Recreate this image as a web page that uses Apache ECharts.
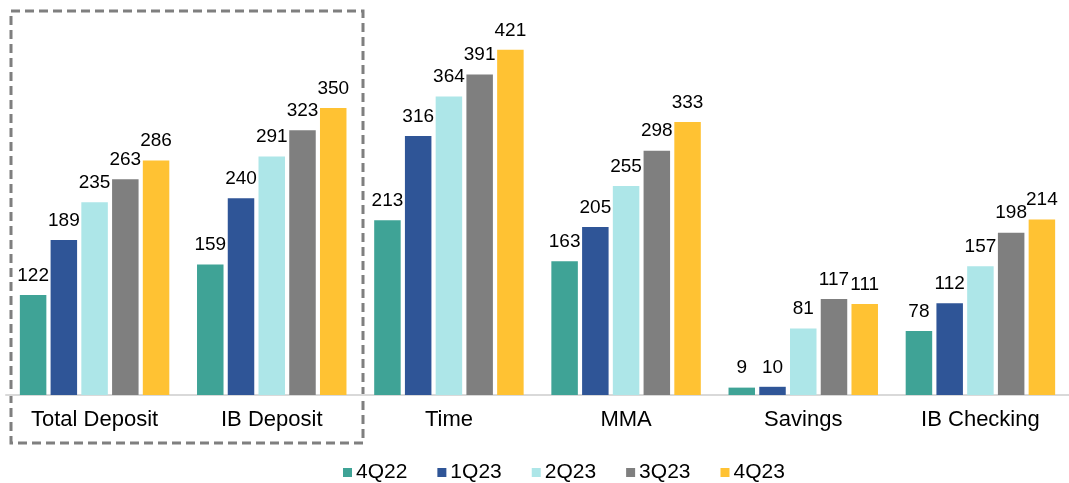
<!DOCTYPE html>
<html><head><meta charset="utf-8">
<script src="https://cdn.jsdelivr.net/npm/echarts@6/dist/echarts.min.js"></script>
<style>html,body{margin:0;padding:0;background:#fff}#c{width:1069px;height:483px}</style>
</head><body><div id="c"></div>
<script>
const categories = ['Total Deposit','IB Deposit','Time','MMA','Savings','IB Checking'];
const seriesNames = ['4Q22','1Q23','2Q23','3Q23','4Q23'];
const s4Q22 = [122,159,213,163,9,78];
const s1Q23 = [189,240,316,205,10,112];
const s2Q23 = [235,291,364,255,81,157];
const s3Q23 = [263,323,391,298,117,198];
const s4Q23 = [286,350,421,333,111,214];
const colors = ['#3FA396','#2F5597','#ADE6E8','#7F7F7F','#FFC233'];
const allData = [s4Q22,s1Q23,s2Q23,s3Q23,s4Q23];
const chart = echarts.init(document.getElementById('c'));
const font = 'Liberation Sans, Arial, sans-serif';
chart.setOption({
  animation:false,
  grid:{left:6,top:26,width:1065,height:369,containLabel:false},
  xAxis:{type:'category',data:categories,
    axisLine:{lineStyle:{color:'#d9d9d9',width:2}},axisTick:{show:false},
    axisLabel:{color:'#000',fontSize:22,fontFamily:font,margin:14}},
  yAxis:{type:'value',min:0,max:450,show:false,splitLine:{show:false}},
  legend:{top:457,left:338,itemWidth:9,itemHeight:9,itemGap:30,icon:'rect',
    textStyle:{fontSize:21,fontFamily:font,color:'#000',padding:[0,0,0,-1]}},
  series: seriesNames.map((n,i)=>({name:n,type:'bar',data:allData[i],
    itemStyle:{color:colors[i]},barWidth:26.5,barGap:'16%',
    label:{show:true,position:'top',distance:10,color:'#000',fontSize:19,fontFamily:font}})),
  graphic:[{type:'rect',shape:{x:11,y:11,width:352,height:432},
    style:{fill:'none',stroke:'#7F7F7F',lineWidth:3,lineDash:[9,5]}}]
});
</script></body></html>
